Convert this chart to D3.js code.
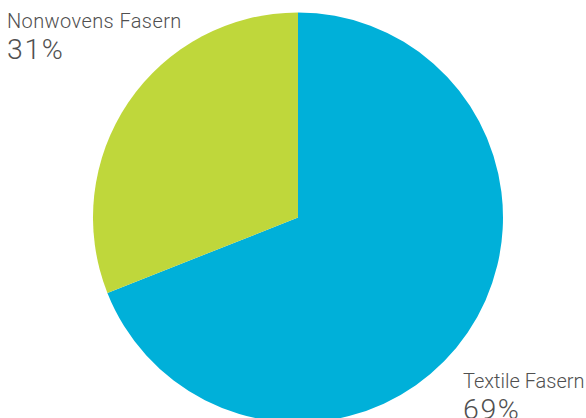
<!DOCTYPE html>
<html><head><meta charset="utf-8">
<script src="https://cdn.jsdelivr.net/npm/d3@7"></script>
<style>body{margin:0;background:#fff}svg{display:block}</style>
</head><body>
<svg id="c" width="586" height="418"></svg>
<script>
const categories = ["Textile Fasern", "Nonwovens Fasern"];
const values = [69, 31];
const valueLabels = ["69%", "31%"];
const colors = ["#00B0D9", "#BFD73B"];

const svg = d3.select("#c");
const cx = 298, cy = 217.5, r = 205;
const pie = d3.pie().sort(null).value(d => d)(values);
const arc = d3.arc().innerRadius(0).outerRadius(r);
const g = svg.append("g").attr("transform", `translate(${cx},${cy})`);
g.selectAll("path").data(pie).join("path")
  .attr("d", arc).attr("fill", (d, i) => colors[i]);

const labelPos = [{x: 463, y: 388, ls: 0}, {x: 7, y: 28, ls: 0.4}];
labelPos.forEach((p, i) => {
  svg.append("text").attr("x", p.x).attr("y", p.y)
    .attr("font-family", "Roboto, 'Liberation Sans', sans-serif").attr("font-weight", 300)
    .attr("font-size", 20).attr("letter-spacing", p.ls).attr("fill", "#505050").text(categories[i]);
  svg.append("text").attr("x", p.x).attr("y", p.y + 31)
    .attr("font-family", "Roboto, 'Liberation Sans', sans-serif").attr("font-weight", 300)
    .attr("font-size", 28.5).attr("letter-spacing", 1.6).attr("fill", "#505050").text(valueLabels[i]);
});
</script>
</body></html>
